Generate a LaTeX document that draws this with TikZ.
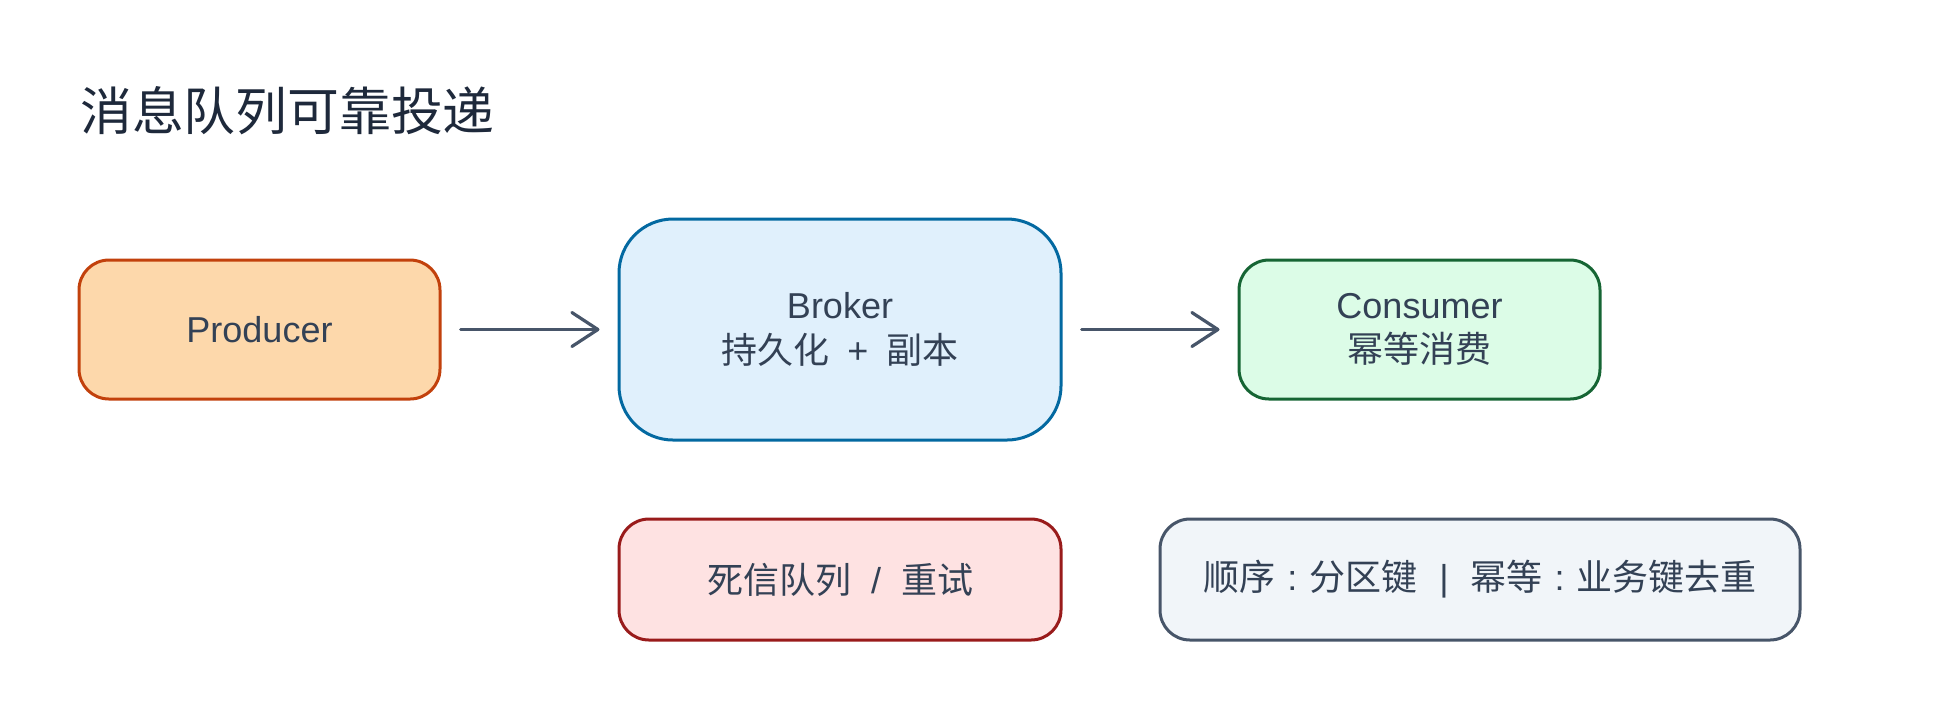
\documentclass[tikz,border=0pt]{standalone}
\usepackage{fontspec}
\setmainfont{Liberation Sans}
\newfontfamily\cjk{Noto Sans CJK SC}
\usetikzlibrary{arrows.meta}
\definecolor{txt}{HTML}{334155}
\definecolor{ttl}{HTML}{1E293B}
\definecolor{arrc}{HTML}{475569}
\definecolor{prodfill}{HTML}{FDD8AB}
\definecolor{proddraw}{HTML}{C2410C}
\definecolor{brkfill}{HTML}{E0F0FC}
\definecolor{brkdraw}{HTML}{0369A1}
\definecolor{consfill}{HTML}{DCFCE7}
\definecolor{consdraw}{HTML}{166534}
\definecolor{dlqfill}{HTML}{FEE2E2}
\definecolor{dlqdraw}{HTML}{991B1B}
\definecolor{notefill}{HTML}{F1F5F9}
\definecolor{notedraw}{HTML}{475569}
\newcommand{\gapsym}[2]{\hspace{#1}{\rmfamily #2}\hspace{#1}}
\begin{document}
\begin{tikzpicture}[x=0.5pt,y=-0.5pt,
  box/.style={draw, line width=1.5pt, rounded corners=15pt, align=center,
    text=txt, inner sep=0pt, font=\fontsize{18}{22.25}\selectfont},
  arr/.style={draw=arrc, line width=1.5pt, line cap=round,
    -{Straight Barb[length=13pt,width=17pt,line width=1.6pt,line cap=round,line join=round]},
    shorten <=9.5pt, shorten >=9pt}]
\useasboundingbox (0,0) rectangle (1960,720);
\node[anchor=west, inner sep=0pt, text=ttl, font=\cjk\fontsize{25.9}{30}\selectfont] (title) at (80,111) {消息队列可靠投递};
\node[box, fill=prodfill, draw=proddraw, minimum width=180.5pt, minimum height=69.5pt] (prod) at (259.5,329.5) {Producer};
\node[box, fill=brkfill, draw=brkdraw, minimum width=221pt, minimum height=110.5pt, rounded corners=27pt] (brk) at (840,329.5) {Broker\\{\cjk 持久化\gapsym{9pt}{+}副本}};
\node[box, fill=consfill, draw=consdraw, minimum width=180.5pt, minimum height=69.5pt] (cons) at (1419.5,329.5) {Consumer\\{\cjk 幂等消费}};
\node[box, fill=dlqfill, draw=dlqdraw, minimum width=221pt, minimum height=60.5pt] (dlq) at (840,579.5) {\cjk 死信队列\gapsym{10pt}{/}重试};
\node[box, fill=notefill, draw=notedraw, minimum width=320pt, minimum height=60.5pt] (note) at (1480,579.5) {\cjk 顺序\gapsym{6pt}{:}分区键\gapsym{11pt}{|}幂等\gapsym{6pt}{:}业务键去重};
\draw[arr] (prod.east) -- (brk.west);
\draw[arr] (brk.east) -- (cons.west);
\end{tikzpicture}
\end{document}
